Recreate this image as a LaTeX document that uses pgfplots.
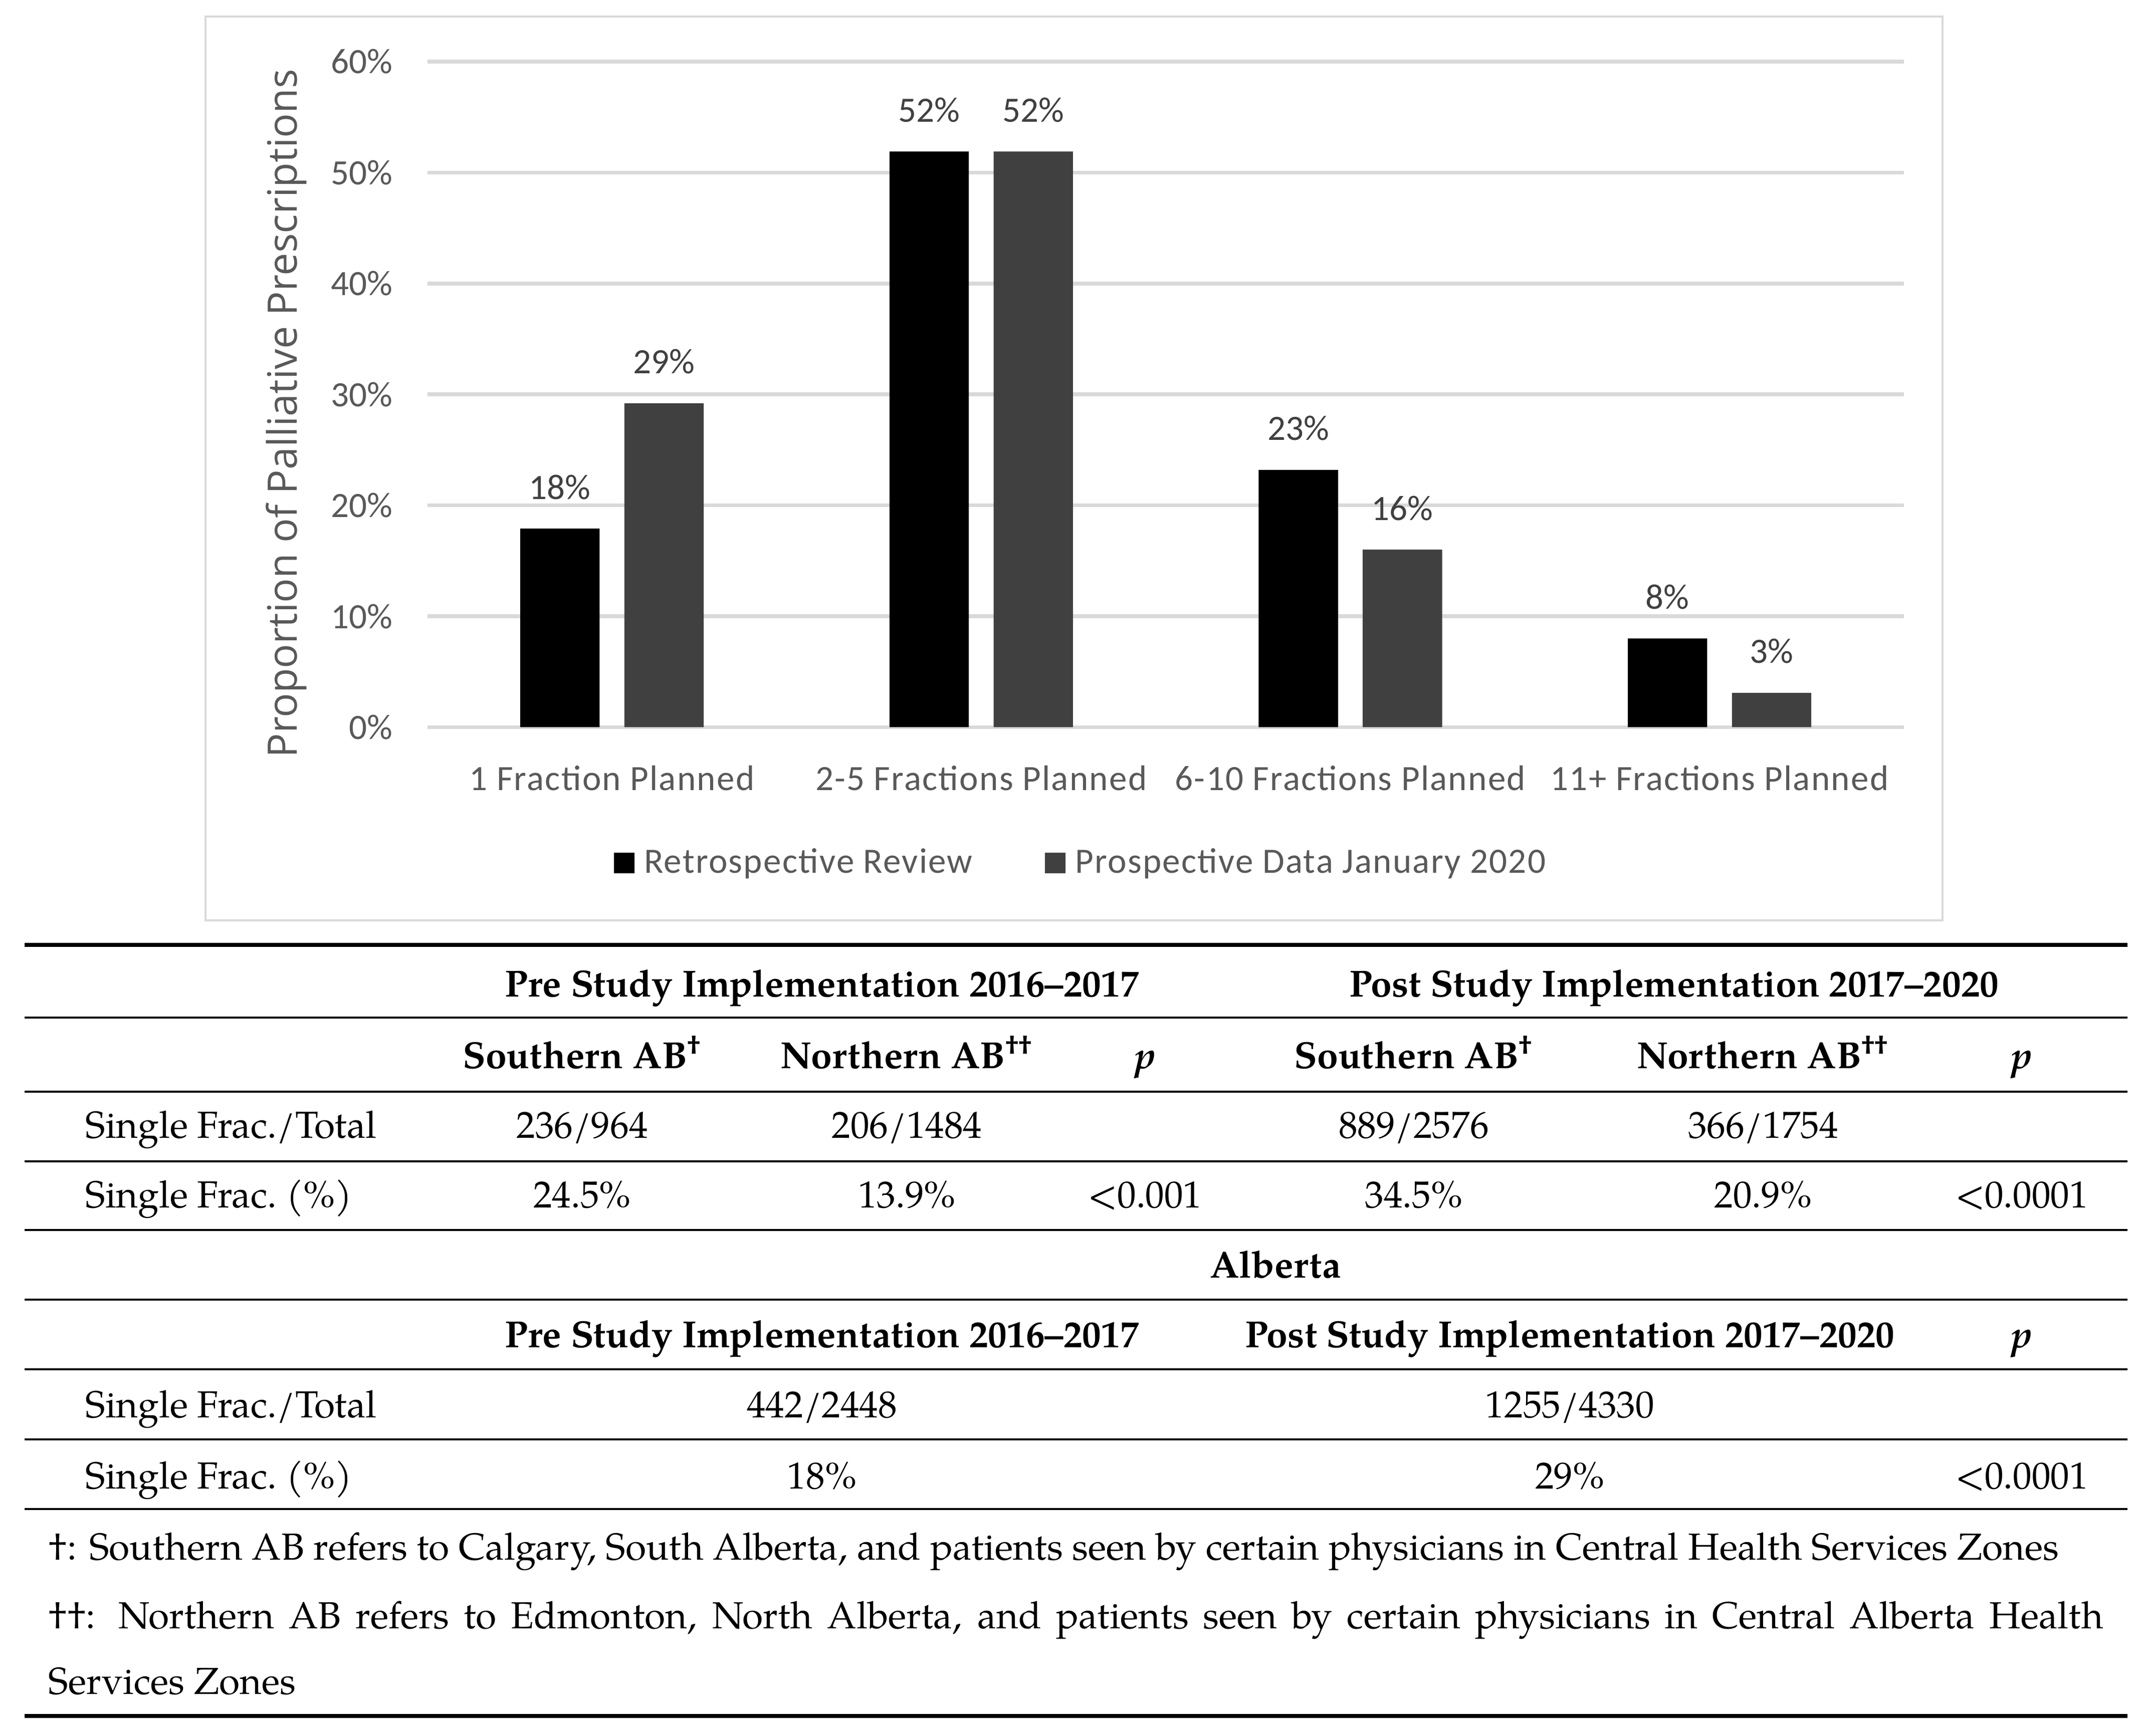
\documentclass[border=0pt]{standalone}
\usepackage{fontspec}
\setmainfont{TeX Gyre Pagella}
\newfontfamily\carlito{Carlito}
\newfontfamily\carlitox[LetterSpace=3.2]{Carlito}
\newfontfamily\opensans{Open Sans}
\usepackage{pgfplots}
\pgfplotsset{compat=1.18}

\definecolor{gridgray}{HTML}{D9D9D9}
\definecolor{labgray}{HTML}{595959}
\definecolor{bargray}{HTML}{404040}

% bar heights in percent
\pgfplotstableread{
x retro prosp
0 17.9  29.2
1 51.9  51.9
2 23.2  16.0
3 8.0   3.1
}\fracdata

\begin{document}
\begin{tikzpicture}
\path[use as bounding box] (0,0) rectangle (784pt,-633.8pt);

\begin{scope}[x=0.5pt,y=-0.5pt]
  \draw[gridgray, line width=0.8pt] (150,12) rectangle (1418,672);
  \node[rotate=90, text=labgray, inner sep=0pt,
        font=\opensans\fontsize{14.8}{16}\selectfont] at (209,302)
        {Proportion of Palliative Prescriptions};
\end{scope}

\begin{axis}[
  at={(156pt,-265.5pt)}, anchor=south west,
  scale only axis, width=539pt, height=243pt,
  xmin=-0.5, xmax=3.5, ymin=0, ymax=60,
  clip=false,
  ybar, bar width=0.215,
  axis line style={draw=none},
  major tick length=0pt, tick style={draw=none},
  ymajorgrids, grid style={gridgray, line width=1.4pt},
  ytick={0,10,20,30,40,50,60},
  yticklabels={0\%,10\%,20\%,30\%,40\%,50\%,60\%},
  xtick={0,1,2,3},
  xticklabels={1 Fraction Planned, 2-5 Fractions Planned, 6-10 Fractions Planned, 11+ Fractions Planned},
  tick label style={font=\carlito\fontsize{13}{15}\selectfont, text=labgray},
  yticklabel style={anchor=east, inner sep=0pt, xshift=-12.5pt},
  xticklabel style={anchor=base, inner sep=0pt, yshift=-23pt,
      font=\carlitox\fontsize{13}{15}\selectfont},
  point meta=y,
  nodes near coords={\pgfmathprintnumber[fixed,precision=0,assume math mode=true]{\pgfplotspointmeta}\%},
  every node near coord/.append style={font=\carlito\fontsize{13}{15}\selectfont,
      text=bargray, anchor=south, inner sep=0pt, yshift=10.5pt},
  legend columns=2,
  legend style={at={(rel axis cs:0.445,-0.204)}, anchor=center, draw=none, fill=none,
      font=\carlitox\fontsize{13}{15}\selectfont, text=labgray,
      nodes={inner xsep=3.5pt, inner ysep=0pt},
      /tikz/every even column/.append style={column sep=23pt}},
]
\addplot[fill=black, draw=none, bar shift=-0.141,
  legend image code/.code={\fill[black] (0pt,-3.75pt) rectangle (7.5pt,3.75pt);}]
  table[x=x, y=retro] {\fracdata};
\addplot[fill=bargray, draw=none, bar shift=0.141,
  legend image code/.code={\fill[bargray] (0pt,-3.75pt) rectangle (7.5pt,3.75pt);}]
  table[x=x, y=prosp] {\fracdata};
\legend{Retrospective Review, Prospective Data January 2020}
\end{axis}

\begin{scope}[x=0.5pt,y=-0.5pt,
  tb/.style={anchor=base, inner sep=0pt, font=\fontsize{13.75}{16}\selectfont},
  tl/.style={tb, anchor=base west},
  th/.style={anchor=base, inner sep=0pt, font=\bfseries\fontsize{13.75}{16}\selectfont}]
  \draw[line width=1.5pt] (18,690) -- (1553,690);
  \foreach \yy in {743,797,848,898,949,1000,1051,1102}
    \draw[line width=0.75pt] (18,\yy) -- (1553,\yy);
  \draw[line width=1.5pt] (18,1253) -- (1553,1253);

  % first block
  \node[th] at (600,728) {Pre Study Implementation 2016–2017};
  \node[th] at (1222,728) {Post Study Implementation 2017–2020};
  \node[th] at (425,780) {Southern AB\textsuperscript{†}};
  \node[th] at (662,780) {Northern AB\textsuperscript{††}};
  \node[th] at (836,780) {\textit{p}};
  \node[th] at (1032,780) {Southern AB\textsuperscript{†}};
  \node[th] at (1287,780) {Northern AB\textsuperscript{††}};
  \node[th] at (1476,780) {\textit{p}};

  \node[tl] at (62,831) {Single Frac./Total};
  \node[tb] at (425,831) {236/964};
  \node[tb] at (662,831) {206/1484};
  \node[tb] at (1032,831) {889/2576};
  \node[tb] at (1287,831) {366/1754};

  \node[tl] at (62,882) {Single Frac.\ (\%)};
  \node[tb] at (425,882) {24.5\%};
  \node[tb] at (662,882) {13.9\%};
  \node[tb] at (836,882) {<0.001};
  \node[tb] at (1032,882) {34.5\%};
  \node[tb] at (1287,882) {20.9\%};
  \node[tb] at (1476,882) {<0.0001};

  % Alberta block
  \node[th] at (931,933) {Alberta};
  \node[th] at (600,984) {Pre Study Implementation 2016–2017};
  \node[th] at (1146,984) {Post Study Implementation 2017–2020};
  \node[th] at (1476,984) {\textit{p}};

  \node[tl] at (62,1035) {Single Frac./Total};
  \node[tb] at (600,1035) {442/2448};
  \node[tb] at (1146,1035) {1255/4330};

  \node[tl] at (62,1087) {Single Frac.\ (\%)};
  \node[tb] at (600,1087) {18\%};
  \node[tb] at (1146,1087) {29\%};
  \node[tb] at (1476,1087) {<0.0001};

  % footnotes
  \node[tl] at (35,1139) {†: Southern AB refers to Calgary, South Alberta, and patients seen by certain physicians in Central Health Services Zones};
  \node[tl] at (35,1189) {\makebox[750pt][s]{††: Northern AB refers to Edmonton, North Alberta, and patients seen by certain physicians in Central Alberta Health}};
  \node[tl] at (35,1237) {Services Zones};
\end{scope}
\end{tikzpicture}
\end{document}
